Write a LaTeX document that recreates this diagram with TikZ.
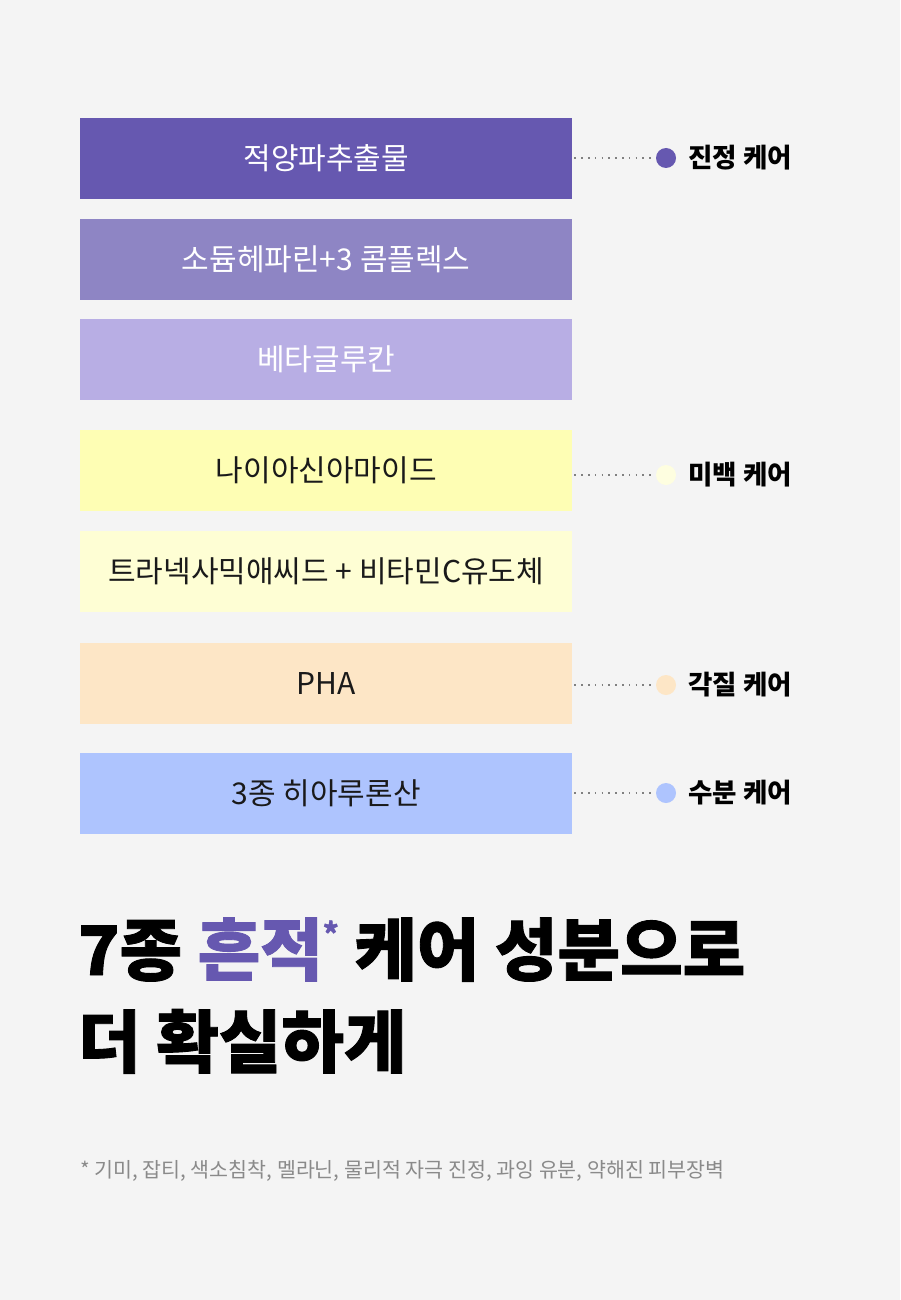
\documentclass[tikz,border=0pt]{standalone}
\usepackage{fontspec}
\setmainfont{Noto Sans CJK KR}
\newfontfamily\kr{Noto Sans CJK KR}
\newfontfamily\krhead{Noto Sans CJK KR}[BoldFeatures={FakeBold=1.3}]
\usetikzlibrary{positioning}
\definecolor{bg}{HTML}{F4F4F4}
\definecolor{c1}{HTML}{6658B0}
\definecolor{c2}{HTML}{8E85C4}
\definecolor{c3}{HTML}{B8AEE4}
\definecolor{c4}{HTML}{FEFEB4}
\definecolor{c5}{HTML}{FEFED4}
\definecolor{c6}{HTML}{FDE6C6}
\definecolor{c7}{HTML}{AEC4FE}
\definecolor{dot4}{HTML}{FEFEE0}
\definecolor{txt}{HTML}{1A1A1A}
\definecolor{foot}{HTML}{8A8A8A}
\definecolor{dline}{HTML}{808080}
\tikzset{
  x=1pt,y=-1pt,
  ing/.style={minimum width=492pt,minimum height=81pt,inner sep=0pt,anchor=north west,font=\kr\fontsize{30}{30}\selectfont},
  ingw/.style={ing,text=white},
  ingd/.style={ing,text=txt},
  bullet/.style={circle,minimum size=20pt,inner sep=0pt},
  lbl/.style={anchor=west,font=\kr\bfseries\fontsize{26.5}{26.5}\selectfont,text=black,inner sep=0pt},
  conn/.style={dline,line width=1.6pt,dash pattern=on 1.6pt off 5.2pt},
  head/.style={anchor=base west,inner sep=0pt,font=\krhead\bfseries\fontsize{68}{68}\selectfont,text=black},
}
\begin{document}
\begin{tikzpicture}
\fill[bg] (0,0) rectangle (900,1300);
\useasboundingbox (0,0) rectangle (900,1300);
\node[ingw,fill=c1] (b1) at (80,118) {적양파추출물};
\node[ingw,fill=c2] (b2) at (80,219) {소듐헤파린+3 콤플렉스};
\node[ingw,fill=c3] (b3) at (80,319) {베타글루칸};
\node[ingd,fill=c4] (b4) at (80,430) {나이아신아마이드};
\node[ingd,fill=c5] (b5) at (80,531) {트라넥사믹애씨드 + 비타민C유도체};
\node[ingd,fill=c6] (b6) at (80,643) {PHA};
\node[ingd,fill=c7] (b7) at (80,753) {3종 히아루론산};
\node[bullet,fill=c1] (d1) at (666,158) {};
\node[bullet,fill=dot4] (d4) at (666,475) {};
\node[bullet,fill=c6] (d6) at (666,685) {};
\node[bullet,fill=c7] (d7) at (666,793) {};
\draw[conn] (b1.east|-d1) ++(2,0) -- (d1.west);
\draw[conn] (b4.east|-d4) ++(2,0) -- (d4.west);
\draw[conn] (b6.east|-d6) ++(2,0) -- (d6.west);
\draw[conn] (b7.east|-d7) ++(2,0) -- (d7.west);
\node[lbl] (l1) at (688,158) {진정 케어};
\node[lbl] (l4) at (688,475) {미백 케어};
\node[lbl] (l6) at (688,685) {각질 케어};
\node[lbl] (l7) at (688,793) {수분 케어};
\node[head] (t1) at (78,975) {7종 \textcolor{c1}{흔적}\raisebox{30pt}{\fontsize{30}{30}\selectfont\textcolor{c1}{*}} 케어 성분으로};
\node[head] (t2) at (78,1067) {더 확실하게};
\node[anchor=base west,inner sep=0pt,font=\kr\fontsize{20.6}{20.6}\selectfont,text=foot] (fn) at (80,1177) {* 기미, 잡티, 색소침착, 멜라닌, 물리적 자극 진정, 과잉 유분, 약해진 피부장벽};
\end{tikzpicture}
\end{document}
